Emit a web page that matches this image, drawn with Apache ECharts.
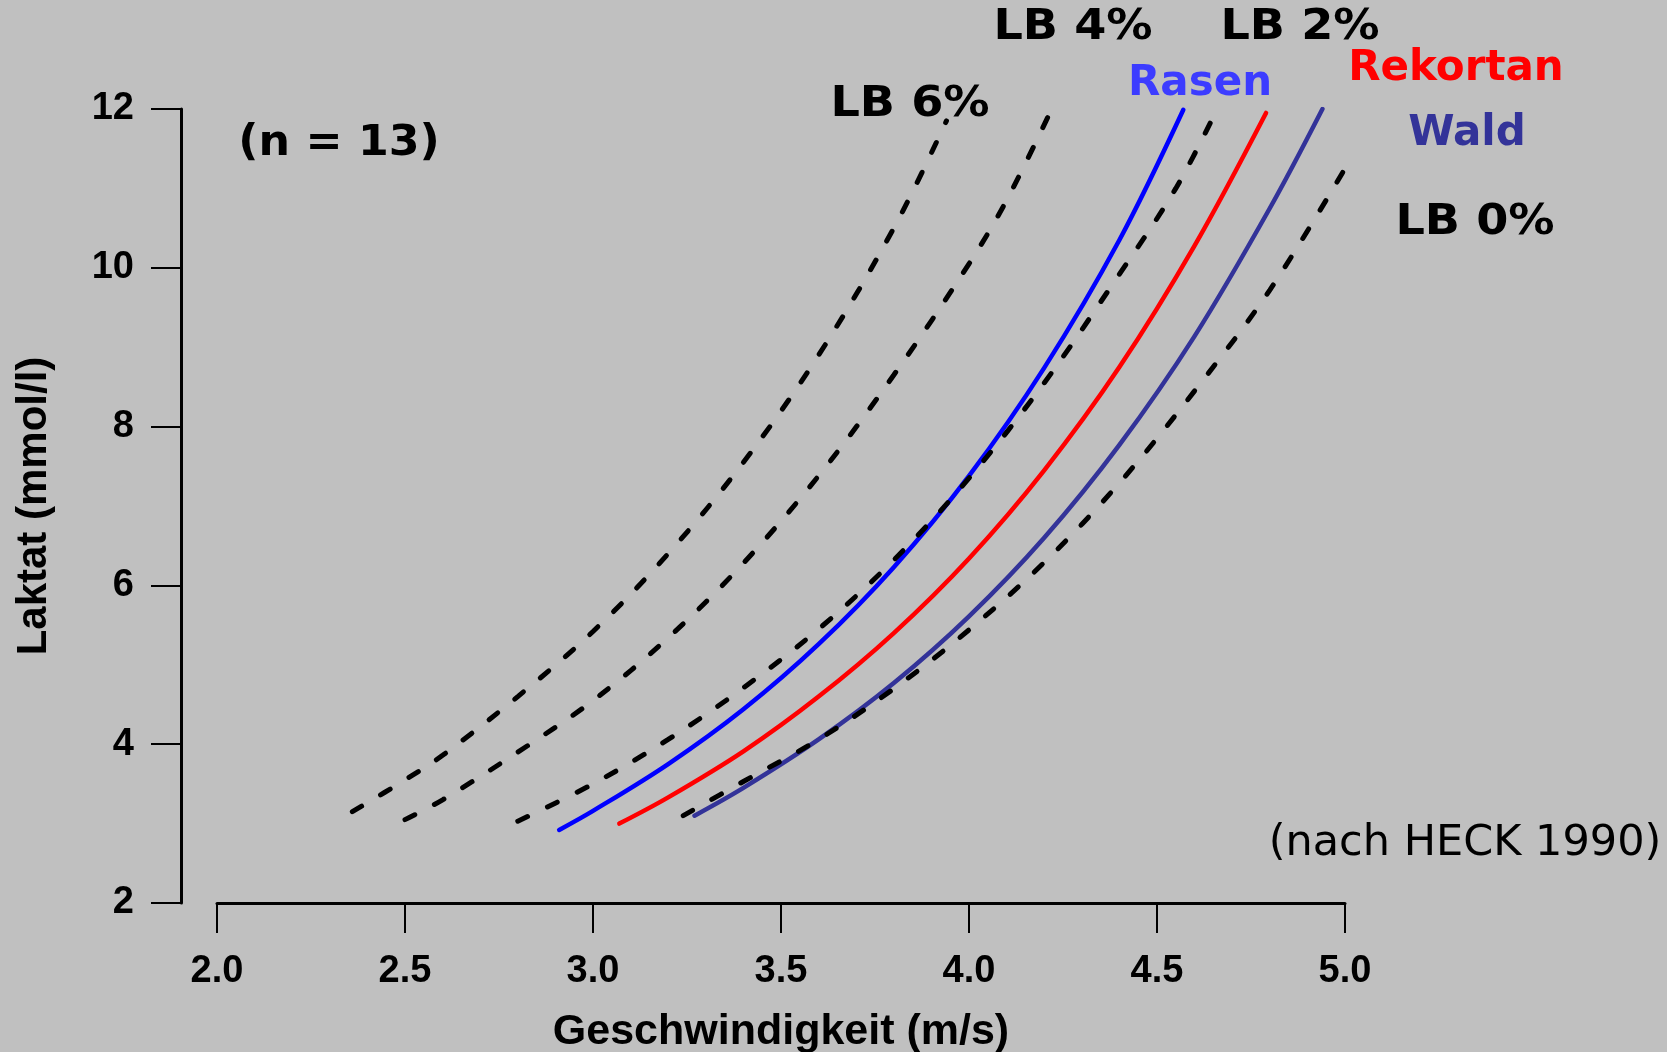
<!DOCTYPE html>
<html><head><meta charset="utf-8">
<script src="https://cdn.jsdelivr.net/npm/echarts@6/dist/echarts.min.js"></script>
<style>html,body{margin:0;padding:0;background:#c0c0c0;}#c{width:1667px;height:1052px;}</style>
</head><body><div id="c"></div>
<script>
// Axis ranges / ticks
const xMin = 2.0, xMax = 5.0, xStep = 0.5;
const yMin = 2, yMax = 12, yStep = 2;

// Laufband (treadmill) reference curves, [speed m/s, lactate mmol/l]
const lb6 = [[2.36,3.15],[2.5,3.55],[2.6,3.86],[2.8,4.60],[3.0,5.42],[3.2,6.40],[3.4,7.55],[3.6,8.90],[3.8,10.50],[3.94,11.85]];
const lb4 = [[2.50,3.05],[2.6,3.30],[2.8,3.90],[3.0,4.55],[3.2,5.34],[3.4,6.28],[3.6,7.38],[3.8,8.65],[4.0,10.05],[4.1,10.85],[4.22,12.0]];
const lb2 = [[2.80,3.03],[3.0,3.50],[3.2,4.06],[3.4,4.71],[3.6,5.45],[3.8,6.32],[4.0,7.35],[4.2,8.55],[4.4,9.92],[4.55,11.0],[4.66,12.0]];
const lb0 = [[3.24,3.10],[3.4,3.53],[3.6,4.06],[3.8,4.70],[4.0,5.44],[4.2,6.29],[4.4,7.29],[4.6,8.45],[4.8,9.72],[5.0,11.25]];

// Field surfaces
const rasen = [[2.91,2.92],[3.0,3.16],[3.2,3.75],[3.4,4.44],[3.6,5.26],[3.8,6.23],[4.0,7.38],[4.2,8.74],[4.4,10.35],[4.57,11.99]];
const rekortan = [[3.07,3.00],[3.2,3.33],[3.4,3.91],[3.6,4.60],[3.8,5.40],[4.0,6.34],[4.2,7.45],[4.4,8.75],[4.6,10.28],[4.79,11.95]];
const wald = [[3.27,3.10],[3.4,3.45],[3.6,4.06],[3.8,4.77],[4.0,5.61],[4.2,6.60],[4.4,7.77],[4.6,9.14],[4.8,10.75],[4.94,12.0]];

const labelTexts = ['LB 6%','LB 4%','LB 2%','LB 0%','Rasen','Rekortan','Wald','(n = 13)','(nach HECK 1990)'];

const chart = echarts.init(document.getElementById('c'), null, {renderer:'canvas'});

function solid(name, data, color){
  return {name, type:'line', data, smooth:0.35, showSymbol:false, symbol:'none',
    lineStyle:{color, width:4.5, cap:'round'}, z:2, silent:true};
}
function dashed(name, data){
  return {name, type:'line', data, smooth:0.35, showSymbol:false, symbol:'none',
    lineStyle:{color:'#000', width:5, type:[11,22], cap:'round'}, z:3, silent:true};
}
const annFont = '"DejaVu Sans", Verdana, sans-serif';
function txt(text, x, y, color, weight, size, sx){
  return {type:'text', x, y, scaleX: sx || 1, silent:true, z:10,
    style:{text, fill:color, font: weight+' '+size+'px '+annFont, textAlign:'center', textVerticalAlign:'middle'}};
}
const axFont = '"Liberation Sans", Arial, sans-serif';

chart.setOption({
  animation:false,
  backgroundColor:'#c0c0c0',
  grid:{left:217, right:322, top:109, bottom:149, containLabel:false, outerBoundsMode:'none'},
  xAxis:{type:'value', min:xMin, max:xMax, interval:xStep,
    name:'Geschwindigkeit (m/s)', nameLocation:'middle', nameGap:108,
    nameTextStyle:{fontFamily:axFont, fontWeight:'bold', fontSize:43, color:'#000'},
    axisLine:{show:true, lineStyle:{color:'#000', width:3}},
    axisTick:{show:true, length:30, lineStyle:{color:'#000', width:2}},
    axisLabel:{margin:50, formatter:v=>v.toFixed(1), fontFamily:axFont, fontWeight:'bold', fontSize:38, color:'#000'},
    splitLine:{show:false}},
  yAxis:{type:'value', min:yMin, max:yMax, interval:yStep, offset:36,
    name:'Laktat (mmol/l)', nameLocation:'middle', nameGap:126,
    nameTextStyle:{fontFamily:axFont, fontWeight:'bold', fontSize:42, color:'#000'},
    axisLine:{show:true, lineStyle:{color:'#000', width:3}},
    axisTick:{show:true, length:30, lineStyle:{color:'#000', width:2}},
    axisLabel:{margin:47, fontFamily:axFont, fontWeight:'bold', fontSize:38, color:'#000'},
    splitLine:{show:false}},
  series:[
    solid('Rasen', rasen, '#0000ff'),
    solid('Rekortan', rekortan, '#ff0000'),
    solid('Wald', wald, '#333399'),
    dashed('LB 6%', lb6),
    dashed('LB 4%', lb4),
    dashed('LB 2%', lb2),
    dashed('LB 0%', lb0)
  ],
  graphic:{elements:[
    txt(labelTexts[0], 910, 105, '#000', 'bold', 42, 1.1),
    txt(labelTexts[1], 1073, 28, '#000', 'bold', 42, 1.1),
    txt(labelTexts[2], 1300, 28, '#000', 'bold', 42, 1.1),
    txt(labelTexts[3], 1475, 223, '#000', 'bold', 42, 1.1),
    txt(labelTexts[4], 1200, 84, '#3c3cff', 'bold', 42),
    txt(labelTexts[5], 1456, 69, '#ff0000', 'bold', 42),
    txt(labelTexts[6], 1467, 134, '#333399', 'bold', 42),
    txt(labelTexts[7], 339, 144, '#000', 'bold', 42, 1.055),
    txt(labelTexts[8], 1465, 844, '#000', 'normal', 43)
  ]}
});
</script></body></html>
